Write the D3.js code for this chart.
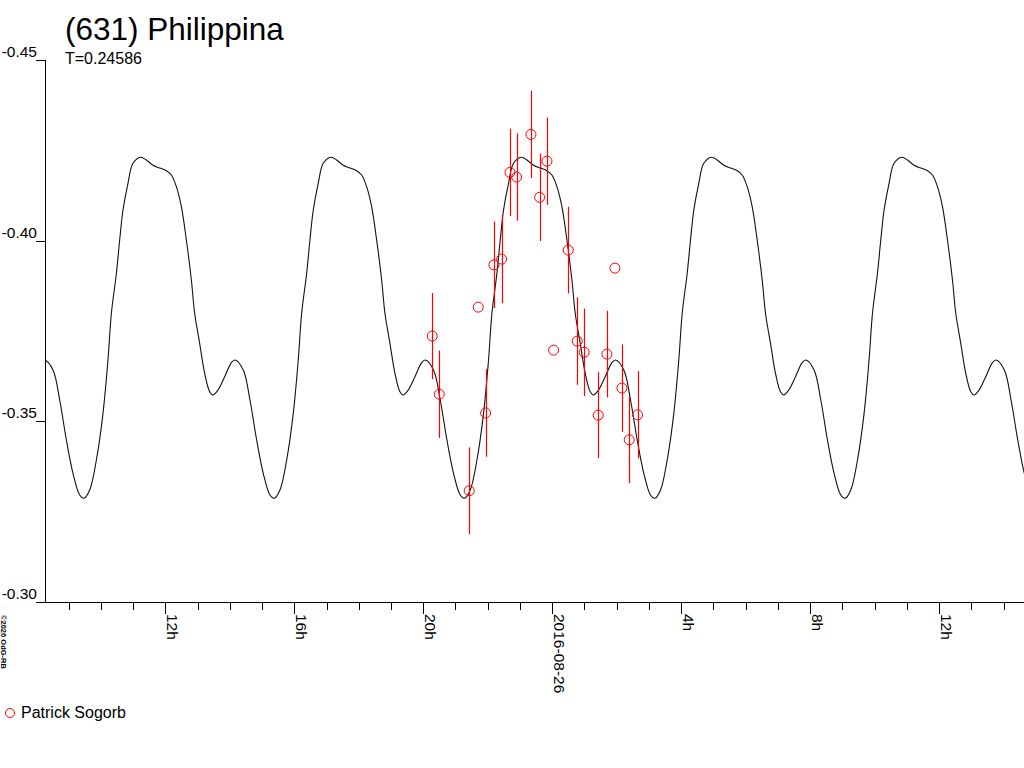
<!DOCTYPE html>
<html><head><meta charset="utf-8">
<script src="https://cdn.jsdelivr.net/npm/d3@7"></script>
<style>
body{margin:0;background:#fff}
svg{display:block}
text{font-family:"Liberation Sans",Arial,sans-serif;fill:#000}
</style>
</head><body>
<svg id="c" width="1024" height="768"></svg>
<script>
// ---- texts ----
const titleText = "(631) Philippina";
const periodLabel = "T=0.24586";
const periodDays = 0.24586;
const observerName = "Patrick Sogorb";
const copyrightText = "©2026 OdG-RB";

// ---- observations (hours relative to 2016-08-26 00:00 UT, magnitude, error) ----
const obsTime = [-3.721,-3.504,-2.574,-2.295,-2.065,-1.808,-1.569,-1.312,-1.104,-0.660,-0.391,-0.164,0.043,0.496,0.775,0.992,1.426,1.696,1.944,2.161,2.388,2.648];
const obsMag  = [-0.3736,-0.3575,-0.3308,-0.3816,-0.3523,-0.3933,-0.3949,-0.4189,-0.4176,-0.4294,-0.4120,-0.4220,-0.3697,-0.3974,-0.3722,-0.3691,-0.3517,-0.3686,-0.3924,-0.3592,-0.3449,-0.3518];
const obsErr  = [0.0119,0.0121,0.0120,0,0.0121,0.0120,0.0122,0.0121,0.0121,0.0121,0.0121,0.0121,0,0.0120,0.0121,0.0121,0.0119,0.0120,0,0.0121,0.0120,0.0121];

// ---- model lightcurve, one rotation cycle (phase fraction, magnitude) ----
const modelPhase = [0,0.0436,0.0788,0.1140,0.1487,0.1839,0.2065,0.2365,0.2717,0.3064,0.3326,0.3505,0.3768,0.3941,0.4115,0.4377,0.4640,0.5045,0.5344,0.5691,0.6043,0.6395,0.6658,0.6921,0.7183,0.7446,0.7709,0.7882,0.8145,0.8408,0.8671,0.8844,0.9107,0.9459,0.9811];
const modelMag   = [-0.36697,-0.36421,-0.35590,-0.34483,-0.33562,-0.32961,-0.32870,-0.33100,-0.33930,-0.35222,-0.36697,-0.37990,-0.39097,-0.40018,-0.40849,-0.41588,-0.42141,-0.42307,-0.42232,-0.42086,-0.42011,-0.41936,-0.41817,-0.41494,-0.40940,-0.40018,-0.38911,-0.37990,-0.37160,-0.36329,-0.35820,-0.35729,-0.35867,-0.36235,-0.36623];
const modelEpochHours = -9.839;

// ---- axes ----
const xDomain = [-15.73, 14.63];
const yDomain = [-0.30, -0.45];
const yTicks = [-0.45, -0.40, -0.35, -0.30];
const yTickLabels = ["-0.45", "-0.40", "-0.35", "-0.30"];
const xMajorHours = [-12, -8, -4, 0, 4, 8, 12];
const xMajorLabels = ["12h", "16h", "20h", "2016-08-26", "4h", "8h", "12h"];

const svg = d3.select("#c");
const L = 45, R = 1024, T = 60, B = 602;
const x = d3.scaleLinear().domain(xDomain).range([L, R]);
const y = d3.scaleLinear().domain(yDomain).range([B, T]);

// clip
svg.append("defs").append("clipPath").attr("id","clip")
  .append("rect").attr("x", L).attr("y", 0).attr("width", R - L).attr("height", B);

// title
svg.append("text").attr("x", 65).attr("y", 40).style("font-size","31.5px").text(titleText);
svg.append("text").attr("x", 65).attr("y", 64).style("font-size","16px").text(periodLabel);

// axes
const ax = svg.append("g").attr("stroke","#000").attr("stroke-width",1).attr("shape-rendering","crispEdges");
ax.append("line").attr("x1", L + 0.5).attr("x2", L + 0.5).attr("y1", T).attr("y2", B);
ax.append("line").attr("x1", 36).attr("x2", R).attr("y1", B + 0.5).attr("y2", B + 0.5);
yTicks.forEach((v, i) => {
  const yy = Math.round(y(v)) + 0.5;
  ax.append("line").attr("x1", 36).attr("x2", L).attr("y1", yy).attr("y2", yy);
  svg.append("text").attr("x", 37).attr("y", yy - 4).attr("text-anchor","end")
    .style("font-size","15.5px").text(yTickLabels[i]);
});

// x ticks: hourly minor, 4-hourly major
d3.range(Math.ceil(xDomain[0]), Math.floor(xDomain[1]) + 1).forEach(h => {
  const xx = Math.round(x(h)) + 0.5;
  const major = xMajorHours.includes(h);
  ax.append("line").attr("x1", xx).attr("x2", xx).attr("y1", B).attr("y2", B + (major ? 12 : 8));
});
xMajorHours.forEach((h, i) => {
  const xx = Math.round(x(h));
  svg.append("text").attr("transform", `translate(${xx + 2},${614}) rotate(90)`)
    .style("font-size","15.5px").text(xMajorLabels[i]);
});

// model curve (repeat the folded cycle with the rotation period)
const periodHours = periodDays * 24;
const pts = [];
for (let k = -2; k <= 6; k++) {
  modelPhase.forEach((p, i) => {
    const t = modelEpochHours + (k + p) * periodHours;
    if (t > xDomain[0] - periodHours && t < xDomain[1] + periodHours) pts.push([t, modelMag[i]]);
  });
}
pts.sort((a, b) => a[0] - b[0]);
svg.append("path").attr("clip-path","url(#clip)")
  .attr("d", d3.line().x(d => x(d[0])).y(d => y(d[1])).curve(d3.curveCatmullRom.alpha(0.5))(pts))
  .attr("fill","none").attr("stroke","#111").attr("stroke-width",1.1);

// observations
const obs = obsTime.map((t, i) => ({t, m: obsMag[i], e: obsErr[i]}));
const g = svg.append("g");
g.selectAll("line.err").data(obs.filter(d => d.e > 0)).join("line")
  .attr("x1", d => Math.round(x(d.t)) + 0.5).attr("x2", d => Math.round(x(d.t)) + 0.5)
  .attr("y1", d => y(d.m - d.e)).attr("y2", d => y(d.m + d.e))
  .attr("stroke","#f00").attr("stroke-width",1.2);
g.selectAll("circle").data(obs).join("circle")
  .attr("cx", d => x(d.t)).attr("cy", d => y(d.m)).attr("r", 5)
  .attr("fill","none").attr("stroke","#f00").attr("stroke-width",1);

// legend
svg.append("circle").attr("cx", 10).attr("cy", 713).attr("r", 4.5)
  .attr("fill","none").attr("stroke","#f00").attr("stroke-width",1);
svg.append("text").attr("x", 21).attr("y", 718).style("font-size","16px").text(observerName);

// copyright
svg.append("text").attr("transform","translate(1,615) rotate(90)")
  .style("font-size","7.5px").style("font-weight","bold").text(copyrightText);
</script>
</body></html>
